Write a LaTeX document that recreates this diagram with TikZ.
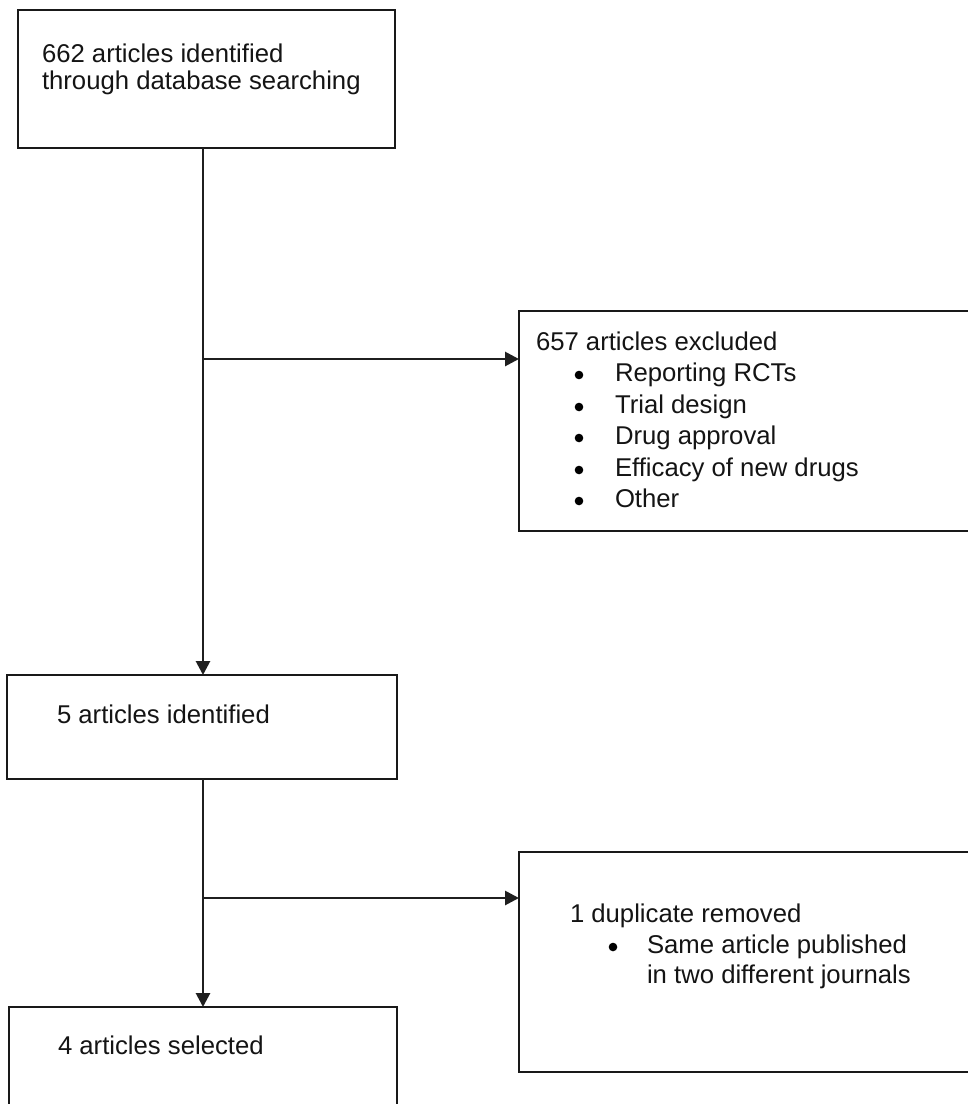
\documentclass[tikz,border=0pt]{standalone}
\usepackage{fontspec}
\setmainfont{Liberation Sans}
\usetikzlibrary{arrows.meta}
\begin{document}
\begin{tikzpicture}[x=1pt,y=-1pt,
  box/.style={draw=black!90, line width=1.9pt, rectangle, inner sep=0pt, outer sep=0pt, anchor=north west},
  txt/.style={anchor=base west, inner sep=0pt, outer sep=0pt, font=\fontsize{25.7}{30}\selectfont, text=black!92},
  conn/.style={draw=black!88, line width=2.8pt},
  arr/.style={conn, -{Triangle[length=14pt,width=14pt]}},
  bul/.style={fill=black}]
\useasboundingbox (0,0) rectangle (968,1104);
% boxes
\node[box, minimum width=377pt, minimum height=138pt] (idbox) at (18,10) {};
\node[box, minimum width=471pt, minimum height=220pt] (exbox) at (519,311) {};
\node[box, minimum width=390pt, minimum height=104pt] (fivebox) at (7,675) {};
\node[box, minimum width=471pt, minimum height=220pt] (dupbox) at (519,852) {};
\node[box, minimum width=388pt, minimum height=130pt] (selbox) at (9,1007) {};
% texts
\node[txt] (t1a) at (42,62) {662 articles identified};
\node[txt] (t1b) at (42,89) {through database searching};
\node[txt] (t2) at (536,350) {657 articles excluded};
\node[txt] (t2a) at (615,381) {Reporting RCTs};
\node[txt] (t2b) at (615,413) {Trial design};
\node[txt] (t2c) at (615,444) {Drug approval};
\node[txt] (t2d) at (615,476) {Efficacy of new drugs};
\node[txt] (t2e) at (615,507) {Other};
\fill[bul] (579,375) circle (4.3);
\fill[bul] (579,407) circle (4.3);
\fill[bul] (579,438) circle (4.3);
\fill[bul] (579,470) circle (4.3);
\fill[bul] (579,501) circle (4.3);
\node[txt] (t3) at (57,723) {5 articles identified};
\node[txt] (t4) at (570,922) {1 duplicate removed};
\node[txt] (t4a) at (647,953) {Same article published};
\node[txt] (t4b) at (647,983) {in two different journals};
\fill[bul] (613,947) circle (4.3);
\node[txt] (t5) at (58,1054) {4 articles selected};
% connectors
\coordinate (j1) at (203,359);
\coordinate (j2) at (203,898);
\draw[arr] (idbox.south -| j1) -- (fivebox.north -| j1);
\draw[arr] (j1) -- (exbox.west |- j1);
\draw[arr] (fivebox.south -| j2) -- (selbox.north -| j2);
\draw[arr] (j2) -- (dupbox.west |- j2);
\end{tikzpicture}
\end{document}
